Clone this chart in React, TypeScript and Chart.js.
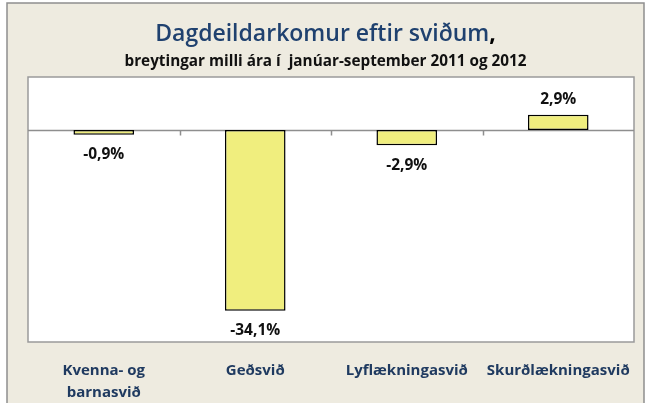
import React, { useEffect, useRef } from "react";
import { Chart, registerables } from "chart.js";

Chart.register(...registerables);

const categories: (string | string[])[] = [["Kvenna- og", "barnasvið"], "Geðsvið", "Lyflækningasvið", "Skurðlækningasvið"];
const changes: number[] = [-0.9, -34.1, -2.9, 2.9];
const valueLabels: string[] = ["-0,9%", "-34,1%", "-2,9%", "2,9%"];
const titleText = "Dagdeildarkomur eftir sviðum";
const subtitleText = "breytingar milli ára í  janúar-september 2011 og 2012";
const yMin = -40;
const yMax = 10;

const FONT = "'Open Sans', 'Liberation Sans', sans-serif";

const framePlugin = {
  id: "frame",
  beforeDraw(chart: any) {
    const { ctx, chartArea, width, height } = chart;
    ctx.save();
    ctx.fillStyle = "#ffffff";
    ctx.fillRect(0, 0, width, height);
    ctx.fillStyle = "#EEEBE0";
    ctx.fillRect(7, 3, 637, height);
    ctx.strokeStyle = "#8E8E8E";
    ctx.lineWidth = 1.5;
    ctx.strokeRect(7, 3, 637, height + 5);
    ctx.fillStyle = "#ffffff";
    ctx.fillRect(chartArea.left, chartArea.top, chartArea.right - chartArea.left, chartArea.bottom - chartArea.top);
    ctx.strokeStyle = "#9A9A9A";
    ctx.lineWidth = 1.5;
    ctx.strokeRect(chartArea.left, chartArea.top, chartArea.right - chartArea.left, chartArea.bottom - chartArea.top);

    // zero line + tick marks
    const y0 = Math.round(chart.scales.y.getPixelForValue(0)) + 0.5;
    ctx.strokeStyle = "#8E8E8E";
    ctx.lineWidth = 1.5;
    ctx.beginPath();
    ctx.moveTo(chartArea.left, y0);
    ctx.lineTo(chartArea.right, y0);
    const n = categories.length;
    const step = (chartArea.right - chartArea.left) / n;
    for (let i = 1; i < n; i++) {
      const x = Math.round(chartArea.left + step * i) + 0.5;
      ctx.moveTo(x, y0);
      ctx.lineTo(x, y0 + 5);
    }
    ctx.stroke();

    // title
    ctx.textAlign = "left";
    ctx.textBaseline = "middle";
    ctx.font = `600 23px ${FONT}`;
    const tw = ctx.measureText(titleText).width;
    ctx.font = `bold 23px ${FONT}`;
    const cw = ctx.measureText(",").width;
    const cx = width / 2;
    const startX = cx - (tw + cw) / 2;
    ctx.font = `600 23px ${FONT}`;
    ctx.fillStyle = "#1F416F";
    ctx.fillText(titleText, startX, 34);
    ctx.font = `bold 23px ${FONT}`;
    ctx.fillStyle = "#000000";
    ctx.fillText(",", startX + tw, 34);

    ctx.textAlign = "center";
    ctx.font = `bold 15.3px ${FONT}`;
    ctx.fillStyle = "#111111";
    ctx.fillText(subtitleText, cx, 62);
    ctx.restore();
  },
  afterDatasetsDraw(chart: any) {
    const { ctx } = chart;
    const meta = chart.getDatasetMeta(0);
    ctx.save();
    ctx.font = `bold 15.5px ${FONT}`;
    ctx.fillStyle = "#111111";
    ctx.textAlign = "center";
    ctx.textBaseline = "middle";
    meta.data.forEach((bar: any, i: number) => {
      const v = changes[i];
      const y = v < 0 ? bar.y + 20 : bar.y - 15;
      ctx.fillText(valueLabels[i], bar.x, y);
    });
    ctx.restore();
  },
};

export default function App() {
  const ref = useRef<HTMLCanvasElement | null>(null);
  useEffect(() => {
    document.body.style.margin = "0";
    const chart = new Chart(ref.current as HTMLCanvasElement, {
      type: "bar",
      data: {
        labels: categories as any,
        datasets: [
          {
            data: changes,
            backgroundColor: "#F0EE7E",
            borderColor: "#000000",
            borderWidth: 1.5,
            borderSkipped: false,
            barPercentage: 0.4,
            categoryPercentage: 1,
          },
        ],
      },
      options: {
        animation: false,
        responsive: false,
        maintainAspectRatio: false,
        layout: { padding: { left: 28, right: 17, top: 77, bottom: 0 } },
        plugins: { legend: { display: false }, title: { display: false }, tooltip: { enabled: false } },
        scales: {
          x: {
            grid: { display: false },
            border: { display: false },
            ticks: {
              color: "#1F3A60",
              font: { family: FONT, size: 15, weight: "bold", lineHeight: 1.5 },
              padding: 9,
              maxRotation: 0,
              autoSkip: false,
            },
            afterFit: (scale: any) => {
              scale.height = 61;
            },
          },
          y: {
            display: false,
            min: yMin,
            max: yMax,
          },
        },
      },
      plugins: [framePlugin],
    });
    return () => chart.destroy();
  }, []);
  return (
    <div style={{ position: "absolute", left: 0, top: 0, width: 651, height: 403 }}>
      <canvas ref={ref} width={651} height={403} style={{ width: 651, height: 403, display: "block" }} />
    </div>
  );
}
